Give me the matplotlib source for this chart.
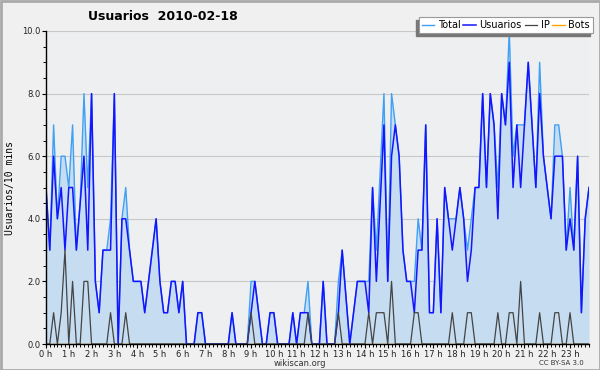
import numpy as np
import matplotlib.pyplot as plt
from matplotlib.patches import Rectangle
from matplotlib.ticker import MultipleLocator

# Données : une valeur toutes les 10 minutes (144 points)
usuarios = [5, 3, 6, 4, 5, 3, 5, 5, 3, 4.5,
            6, 3, 8, 2, 1, 3, 3, 3, 8, 0,
            4, 4, 3, 2, 2, 2, 1, 2, 3, 4,
            2, 1, 1, 2, 2, 1, 2, 0, 0, 0,
            1, 1, 0, 0, 0, 0, 0, 0, 0, 1,
            0, 0, 0, 0, 1, 2, 1, 0, 0, 1,
            1, 0, 0, 0, 0, 1, 0, 1, 1, 1,
            0, 0, 0, 2, 0, 0, 0, 1, 3, 1.5,
            0, 1, 2, 2, 2, 1, 5, 2, 4.5, 7,
            2, 6, 7, 6, 3, 2, 2, 1, 3, 3,
            7, 1, 1, 4, 1, 5, 4, 3, 4, 5,
            4, 2, 3, 5, 5, 8, 5, 8, 7, 4,
            8, 7, 9, 5, 7, 5, 7, 9, 7, 5,
            8, 6, 5, 4, 6, 6, 6, 3, 4, 3,
            6, 1, 4, 5]

ip = [0, 0, 1, 0, 1, 3, 0, 2, 0, 0,
      2, 2, 0, 0, 0, 0, 0, 1, 0, 0,
      0, 1, 0, 0, 0, 0, 0, 0, 0, 0,
      0, 0, 0, 0, 0, 0, 0, 0, 0, 0,
      0, 0, 0, 0, 0, 0, 0, 0, 0, 0,
      0, 0, 0, 0, 1, 0, 0, 0, 0, 0,
      0, 0, 0, 0, 0, 0, 0, 0, 0, 1,
      0, 0, 0, 0, 0, 0, 0, 1, 0, 0,
      0, 0, 0, 0, 0, 1, 0, 1, 1, 1,
      0, 2, 0, 0, 0, 0, 0, 1, 1, 0,
      0, 0, 0, 0, 0, 0, 0, 1, 0, 0,
      0, 1, 1, 0, 0, 0, 0, 0, 0, 1,
      0, 0, 1, 1, 0, 2, 0, 0, 0, 0,
      1, 0, 0, 0, 1, 1, 0, 0, 1, 0,
      0, 0, 0, 0]

total = [5, 3, 7, 4, 6, 6, 5, 7, 3, 4.5,
         8, 5, 8, 2, 1, 3, 3, 4, 8, 0,
         4, 5, 3, 2, 2, 2, 1, 2, 3, 4,
         2, 1, 1, 2, 2, 1, 2, 0, 0, 0,
         1, 1, 0, 0, 0, 0, 0, 0, 0, 1,
         0, 0, 0, 0, 2, 2, 1, 0, 0, 1,
         1, 0, 0, 0, 0, 1, 0, 1, 1, 2,
         0, 0, 0, 2, 0, 0, 0, 2, 3, 1.5,
         0, 1, 2, 2, 2, 2, 5, 3, 5.5, 8,
         2, 8, 7, 6, 3, 2, 2, 2, 4, 3,
         7, 1, 1, 4, 1, 5, 4, 4, 4, 5,
         4, 3, 4, 5, 5, 8, 5, 8, 7, 5,
         8, 7, 10, 6, 7, 7, 7, 9, 7, 5,
         9, 6, 5, 4, 7, 7, 6, 3, 5, 3,
         6, 1, 4, 5]

bots = [0] * 144

hours = [f"{h} h" for h in range(24)]

x = np.arange(len(total))

fig = plt.figure(figsize=(6, 3.7), dpi=100, facecolor='#f0f0f0')
ax = fig.add_axes([46 / 600, 1 - 344 / 370, 543 / 600, 313 / 370])
ax.set_facecolor('#eeeff1')

# Aire + courbes
ax.fill_between(x, total, 0, color='#c6dcf0', lw=0, zorder=1)
ax.plot(x, bots, color='#ffa500', lw=1, label='Bots', zorder=2)
ax.plot(x, total, color='#3fa0f5', lw=1, label='Total', zorder=3)
ax.plot(x, usuarios, color='#1414ff', lw=1.1, label='Usuarios', zorder=4)
ax.plot(x, ip, color='#444444', lw=0.9, label='IP', zorder=5)

ax.set_xlim(0, 143)
ax.set_ylim(0, 10)
ax.set_xticks(np.arange(0, 144, 6))
ax.set_xticklabels(hours)
ax.xaxis.set_minor_locator(MultipleLocator(1))
ax.set_yticks(np.arange(0, 11, 2))
ax.set_yticklabels([f"{v:.1f}" for v in range(0, 11, 2)])
ax.yaxis.set_minor_locator(MultipleLocator(0.5))
ax.tick_params(axis='both', which='major', labelsize=6, length=3, width=0.8,
               pad=1, colors='black', labelcolor='#222222')
ax.tick_params(axis='both', which='minor', length=2, width=0.7)
ax.grid(axis='y', which='major', color='#c8c8c8', lw=0.8, zorder=0)
ax.set_axisbelow(True)
for s in ['top', 'right']:
    ax.spines[s].set_visible(False)
for s in ['left', 'bottom']:
    ax.spines[s].set_linewidth(1.0)
    ax.spines[s].set_zorder(6)

fig.text(163 / 600, 1 - 17 / 370, "Usuarios  2010-02-18", fontsize=9,
         fontweight='bold', ha='center', va='center')
fig.text(10 / 600, 1 - 188 / 370, "Usuarios/10 mins", rotation=90,
         fontsize=7, family='DejaVu Sans Mono', ha='center', va='center')
fig.text(300 / 600, 1 - 363 / 370, "wikiscan.org", fontsize=6,
         color='#333333', ha='center', va='center')
fig.text(561 / 600, 1 - 363 / 370, "CC BY-SA 3.0", fontsize=5,
         color='#333333', ha='center', va='center')

# Légende
h, l = ax.get_legend_handles_labels()
order = [1, 2, 3, 0]
leg = fig.legend([h[i] for i in order], [l[i] for i in order], ncol=4,
                 loc='upper right', bbox_to_anchor=(593 / 600, 1 - 17 / 370),
                 fontsize=7, handlelength=1.3, handletextpad=0.35,
                 columnspacing=0.3, borderpad=0.3, borderaxespad=0,
                 fancybox=False, framealpha=1, edgecolor='#999999')
leg.get_frame().set_linewidth(0.8)
leg.set_zorder(10)

fig.canvas.draw()
bb = leg.get_window_extent().transformed(fig.transFigure.inverted())
fig.patches.append(Rectangle((bb.x0 - 3 / 600, bb.y0 - 3 / 370), bb.width, bb.height,
                             transform=fig.transFigure, color='#777777', zorder=9))

# Cadre gris
fig.patches.append(Rectangle((0.5 / 600, 0.5 / 370), 599 / 600, 369 / 370, fill=False,
                             edgecolor='#aaaaaa', lw=2, transform=fig.transFigure))

fig.savefig('out.png', dpi=100, facecolor=fig.get_facecolor())
